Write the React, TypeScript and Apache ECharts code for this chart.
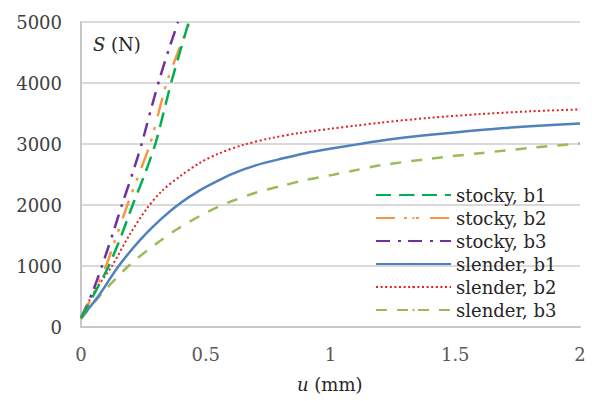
import React, { useEffect, useRef } from "react";
import * as echarts from "echarts";

const seriesNames = ["stocky, b1", "stocky, b2", "stocky, b3", "slender, b1", "slender, b2", "slender, b3"];

const stockyB1: [number, number][] = [[0, 150], [0.05, 520], [0.111, 1000], [0.16, 1480], [0.207, 2000], [0.255, 2500], [0.298, 3000], [0.33, 3500], [0.361, 4000], [0.396, 4500], [0.432, 5000]];
const stockyB2: [number, number][] = [[0, 150], [0.05, 540], [0.1, 1000], [0.143, 1500], [0.186, 2000], [0.232, 2500], [0.277, 3000], [0.31, 3500], [0.343, 4000], [0.388, 4500], [0.436, 5000]];
const stockyB3: [number, number][] = [[0, 150], [0.045, 560], [0.084, 1000], [0.125, 1500], [0.164, 2000], [0.205, 2500], [0.243, 3000], [0.276, 3500], [0.31, 4000], [0.348, 4500], [0.389, 5000]];
const slenderB1: [number, number][] = [[0, 150], [0.068, 495], [0.151, 1000], [0.24, 1440], [0.324, 1780], [0.4, 2035], [0.476, 2240], [0.55, 2400], [0.609, 2515], [0.7, 2650], [0.81, 2765], [0.9, 2850], [1.01, 2930], [1.1, 2990], [1.2, 3055], [1.4, 3150], [1.6, 3230], [1.8, 3290], [2.0, 3338]];
const slenderB2: [number, number][] = [[0, 150], [0.05, 560], [0.124, 1000], [0.19, 1480], [0.26, 1920], [0.324, 2230], [0.4, 2480], [0.476, 2690], [0.55, 2840], [0.65, 2985], [0.76, 3095], [0.876, 3180], [1.0, 3250], [1.1, 3300], [1.2, 3350], [1.4, 3430], [1.6, 3490], [1.8, 3535], [2.0, 3568]];
const slenderB3: [number, number][] = [[0, 130], [0.06, 440], [0.19, 1000], [0.3, 1360], [0.388, 1610], [0.476, 1820], [0.55, 1970], [0.609, 2070], [0.7, 2200], [0.81, 2320], [0.9, 2410], [1.01, 2495], [1.1, 2570], [1.2, 2650], [1.4, 2760], [1.6, 2850], [1.8, 2935], [2.0, 3010]];

const xTicks = ["0", "0.5", "1", "1.5", "2"];

const FONT = "DejaVu Serif";
const FS = 18;

export default function App() {
  const ref = useRef<HTMLDivElement>(null);
  useEffect(() => {
    if (!ref.current) return;
    const chart = echarts.init(ref.current, undefined, { renderer: "svg" });
    const datasets = [stockyB1, stockyB2, stockyB3, slenderB1, slenderB2, slenderB3];
    const styles = [
      { color: "#00B050", width: 2.5, type: [15, 8] as any },
      { color: "#F79646", width: 2.5, type: [19, 9, 3, 9, 3, 11] as any },
      { color: "#7030A0", width: 2.5, type: [14, 8, 3, 7] as any },
      { color: "#4F81BD", width: 2.5, type: "solid" as any },
      { color: "#E02020", width: 2, type: [2, 2.6] as any },
      { color: "#9BBB59", width: 2.5, type: [11, 10] as any },
    ];
    chart.setOption({
      animation: false,
      textStyle: { fontFamily: FONT },
      grid: { left: 81, right: 12, top: 22, bottom: 74, containLabel: false },
      xAxis: {
        type: "value",
        min: 0,
        max: 2,
        interval: 0.5,
        axisLine: { show: true, lineStyle: { color: "#c8c8c8", width: 2 } },
        axisTick: { show: false },
        splitLine: { show: false },
        axisLabel: {
          margin: 18,
          fontFamily: FONT,
          fontSize: FS,
          color: "#595959",
          formatter: (v: number) => xTicks[Math.round(v / 0.5)] ?? String(v),
        },
      },
      yAxis: {
        type: "value",
        min: 0,
        max: 5000,
        interval: 1000,
        axisLine: { show: true, lineStyle: { color: "#c8c8c8", width: 2 } },
        axisTick: { show: false },
        splitLine: { show: true, lineStyle: { color: "#d9d9d9", width: 2 } },
        axisLabel: { margin: 19, fontFamily: FONT, fontSize: FS, color: "#404040", formatter: (v: number) => String(v) },
      },
      legend: {
        orient: "vertical",
        left: 375,
        top: 184,
        padding: 0,
        itemGap: 1,
        itemWidth: 75,
        itemHeight: 3,
        itemTextGap: 7,
        textStyle: { fontFamily: FONT, fontSize: FS, color: "#262626", lineHeight: 22 },
        data: seriesNames,
      },
      graphic: [
        {
          type: "text",
          left: 93,
          top: 35,
          style: {
            text: "{i|S} (N)",
            fontFamily: FONT,
            fontSize: FS,
            fill: "#262626",
            rich: { i: { fontStyle: "italic", fontFamily: FONT, fontSize: FS, fill: "#262626" } },
          },
        },
        {
          type: "text",
          left: 297,
          top: 375,
          style: {
            text: "{i|u} (mm)",
            fontFamily: FONT,
            fontSize: FS,
            fill: "#262626",
            rich: { i: { fontStyle: "italic", fontFamily: FONT, fontSize: FS, fill: "#262626" } },
          },
        },
      ],
      series: datasets.map((d, i) => ({
        name: seriesNames[i],
        type: "line",
        data: d,
        smooth: 0.3,
        symbol: "none",
        clip: true,
        lineStyle: styles[i],
        itemStyle: { color: styles[i].color },
        z: 10 - i,
      })),
    });
    return () => chart.dispose();
  }, []);
  return <div ref={ref} style={{ width: 592, height: 401, position: "absolute", left: 0, top: 0 }} />;
}
